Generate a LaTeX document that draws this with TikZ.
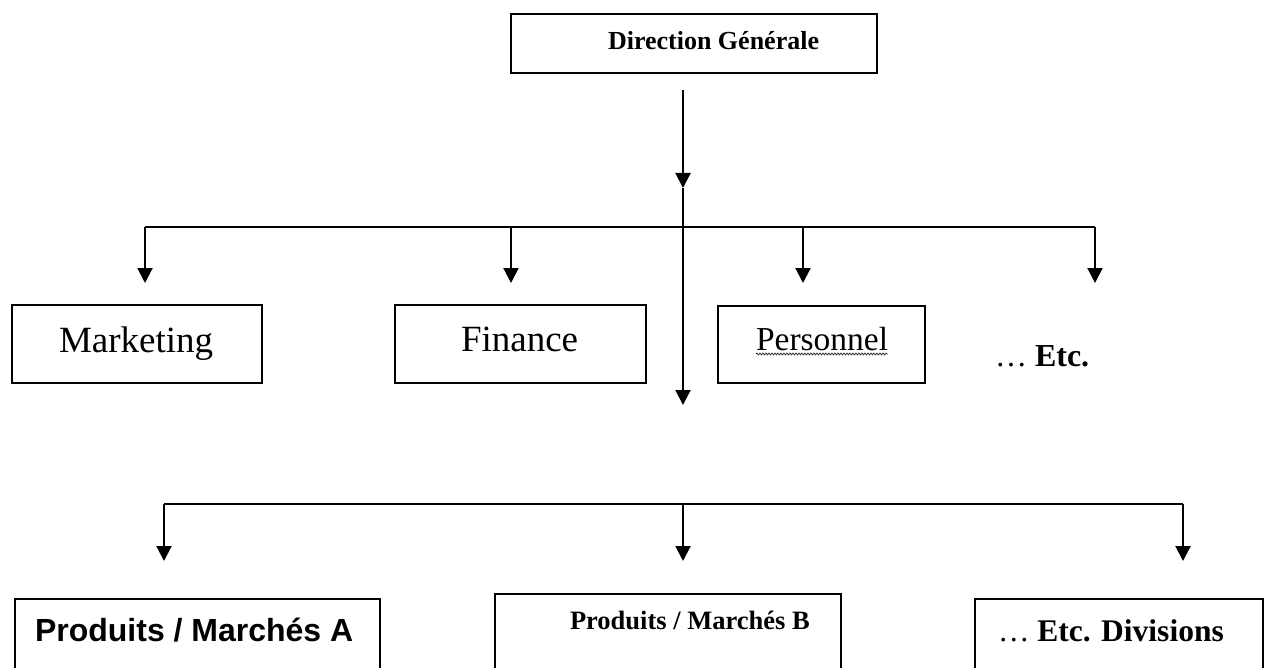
\documentclass[tikz,border=0pt]{standalone}
\usepackage{fontspec}
\setmainfont{Liberation Serif}
\newfontfamily\arialbold[BoldFont={* Bold}]{Liberation Sans}
\usetikzlibrary{arrows.meta,decorations.pathmorphing}

\tikzset{
  unitbox/.style={draw, line width=2.1pt, rectangle, inner sep=0pt},
  link/.style={line width=2.1pt, line join=miter},
  arrowlink/.style={link, -{Triangle[width=15pt,length=15pt]}},
  lbl/.style={anchor=base west, inner sep=0pt, outer sep=0pt},
}

\begin{document}
\begin{tikzpicture}[x=1pt, y=-1pt]
  \clip (0,0) rectangle (1265,668);
  \fill[white] (0,0) rectangle (1265,668);

  % --- boxes (placed by their top-left corner) ---
  \node[unitbox, minimum width=366pt, minimum height=59pt, anchor=north west] (dg) at (510,13) {};
  \node[unitbox, minimum width=250pt, minimum height=78pt, anchor=north west] (mkt) at (11,304) {};
  \node[unitbox, minimum width=251pt, minimum height=78pt, anchor=north west] (fin) at (394,304) {};
  \node[unitbox, minimum width=207pt, minimum height=77pt, anchor=north west] (pers) at (717,305) {};
  \node[unitbox, minimum width=365pt, minimum height=110pt, anchor=north west] (pma) at (14,598) {};
  \node[unitbox, minimum width=346pt, minimum height=115pt, anchor=north west] (pmb) at (494,593) {};
  \node[unitbox, minimum width=288pt, minimum height=110pt, anchor=north west] (div) at (974,598) {};

  % --- labels ---
  \node[lbl, font=\fontsize{26}{30}\selectfont\bfseries] (dgt) at (608,50) {Direction Générale};
  \node[lbl, font=\fontsize{37}{42}\selectfont] (mktt) at (59,352) {Marketing};
  \node[lbl, font=\fontsize{37}{42}\selectfont] (fint) at (461,351) {Finance};
  \node[lbl, font=\fontsize{33.5}{40}\selectfont] (perst) at (756,350) {Personnel};
  \node[lbl, font=\fontsize{32}{38}\selectfont] (etc) at (995,366) {…\ \textbf{Etc.}};
  \node[lbl, font=\fontsize{32}{38}\selectfont\arialbold\bfseries] (pmat) at (35,641) {Produits / Marchés A};
  \node[lbl, font=\fontsize{26.5}{32}\selectfont\bfseries] (pmbt) at (570,629) {Produits / Marchés B};
  \node[lbl, font=\fontsize{31.5}{38}\selectfont] (divt) at (998,641) {…\ \textbf{Etc. Divisions}};

  % spelling underline under "Personnel"
  \draw[black!80, line width=0.8pt, decorate,
        decoration={snake, amplitude=0.9pt, segment length=3pt}]
    ([yshift=-4pt]perst.base west) -- ([yshift=-4pt]perst.base east);

  % --- trunk from the general management ---
  \coordinate (t0) at (683,90);
  \coordinate (t1) at (683,188);
  \coordinate (t2) at (683,405);
  \draw[arrowlink] (t0) -- (t1);
  \draw[arrowlink] (t1) -- (t2);

  % --- functional departments bus ---
  \coordinate (b1l) at (145,227);
  \coordinate (b1r) at (1095,227);
  \draw[link] (b1l) -- (b1r);
  \coordinate (a1) at (145,283);
  \coordinate (a2) at (511,283);
  \coordinate (a3) at (803,283);
  \coordinate (a4) at (1095,283);
  \draw[arrowlink] (b1l) -- (a1);
  \draw[arrowlink] (a2 |- b1l) -- (a2);
  \draw[arrowlink] (a3 |- b1l) -- (a3);
  \draw[arrowlink] (b1r) -- (a4);

  % --- divisions bus ---
  \coordinate (b2l) at (164,504);
  \coordinate (b2r) at (1183,504);
  \draw[link] (b2l) -- (b2r);
  \coordinate (c1) at (164,561);
  \coordinate (c2) at (683,561);
  \coordinate (c3) at (1183,561);
  \draw[arrowlink] (b2l) -- (c1);
  \draw[arrowlink] (c2 |- b2l) -- (c2);
  \draw[arrowlink] (b2r) -- (c3);
\end{tikzpicture}
\end{document}
